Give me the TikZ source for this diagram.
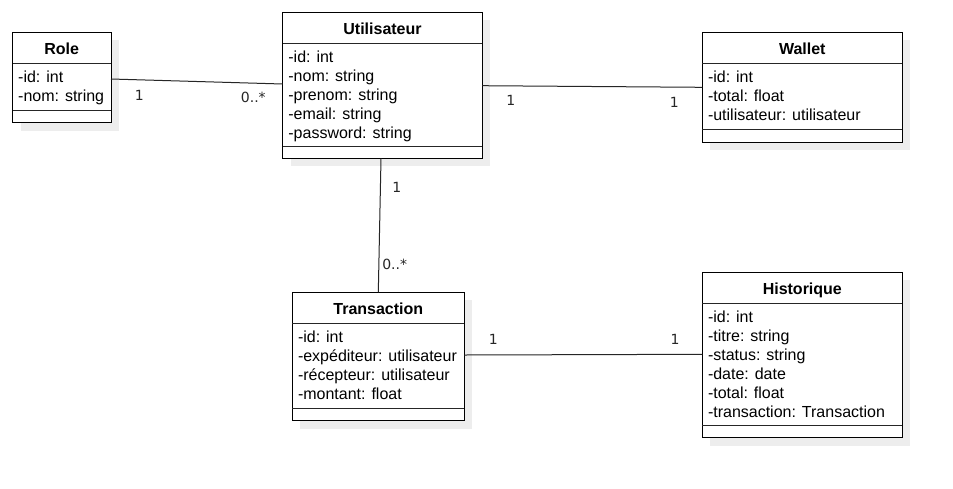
\documentclass[tikz,border=0pt]{standalone}
\usepackage{fontspec}
\setmainfont{Liberation Sans}
\newfontfamily\lblfont{DejaVu Sans}
\tikzset{
  x=1pt, y=-1pt,
  shadowc/.style={fill=black!7},
  classbox/.style={draw=black, line width=1pt, fill=white, inner sep=0pt, outer sep=0pt},
  classline/.style={draw=black!85, line width=1pt},
  titlec/.style={anchor=base, inner sep=0pt, font=\fontsize{16}{19}\selectfont\bfseries},
  attrc/.style={anchor=base west, inner sep=0pt, font=\fontsize{16}{19}\selectfont},
  conn/.style={draw=black!85, line width=1pt},
  mult/.style={anchor=base, inner sep=0pt, font=\lblfont\fontsize{14}{16}\selectfont, text=black!85}
}
% #1 name, #2 left, #3 top, #4 width, #5 height, #6 second separator (relative), #7 title, #8 attributes
\newcommand\umlcls[8]{%
  \fill[shadowc] (#2+8,#3+8) rectangle ++(#4,#5);
  \node[classbox, minimum width=#4, minimum height=#5, anchor=north west] (#1) at (#2,#3) {};
  \draw[classline] (#2,#3+31) -- ++(#4,0);
  \draw[classline] (#2,#3+#6) -- ++(#4,0);
  \node[titlec] (#1-title) at (#2+#4/2,#3+22) {#7};
  \foreach \t [count=\i] in {#8} \node[attrc] (#1-a\i) at (#2+5.5,#3+50+19*\i-19) {\t};
}
\begin{document}
\begin{tikzpicture}
\fill[white] (0,0) rectangle (953,488);
\useasboundingbox (0,0) rectangle (953,488);

\umlcls{role}{12.5}{32.3}{98.5}{90.5}{78.5}{Role}{-id: int,-nom: string}
\umlcls{util}{282.7}{12.3}{199.6}{146}{134.4}{Utilisateur}{-id: int,-nom: string,-prenom: string,-email: string,-password: string}
\umlcls{wallet}{702.3}{32.3}{200}{110}{97}{Wallet}{-id: int,-total: float,-utilisateur: utilisateur}
\umlcls{trans}{292.3}{292.3}{172}{128.4}{116}{Transaction}{-id: int,-expéditeur: utilisateur,-récepteur: utilisateur,-montant: float}
\umlcls{hist}{702.3}{272.3}{200}{165.4}{153.4}{Historique}{-id: int,-titre: string,-status: string,-date: date,-total: float,-transaction: Transaction}

\draw[conn] ([yshift=-46.7pt]role.north east) -- ([yshift=-71.7pt]util.north west);
\draw[conn] ([yshift=-73.4pt]util.north east) -- ([yshift=-55pt]wallet.north west);
\draw[conn] ([xshift=98.3pt]util.south west) -- ([xshift=86pt]trans.north west);
\draw[conn] ([yshift=-62.7pt]trans.north east) -- ([yshift=-82pt]hist.north west);

\node[mult] (m1) at (139.3,100) {1};
\node[mult] (m2) at (253.3,102.5) {0..*};
\node[mult] (m3) at (510.7,105.7) {1};
\node[mult] (m4) at (674.3,107) {1};
\node[mult] (m5) at (396.7,192.3) {1};
\node[mult] (m6) at (394.7,269.3) {0..*};
\node[mult] (m7) at (493.3,344.3) {1};
\node[mult] (m8) at (675,344.3) {1};
\end{tikzpicture}
\end{document}
